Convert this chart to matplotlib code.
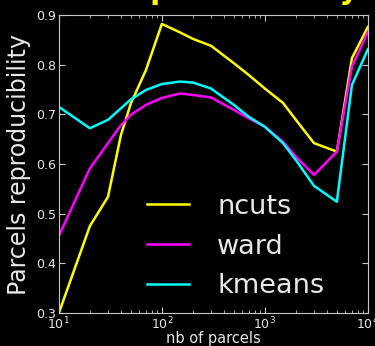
import numpy as np
import matplotlib
matplotlib.use("Agg")
import matplotlib.pyplot as plt

# number of parcels (log scale)
n_parcels = [10, 20, 30, 40, 50, 70, 100, 150, 200, 300, 500, 700,
             1000, 1500, 2000, 3000, 5000, 7000, 10000]

# reproducibility per method
ncuts = [0.300, 0.475, 0.534, 0.658, 0.722, 0.789, 0.882, 0.865, 0.852, 0.838,
         0.803, 0.779, 0.752, 0.723, 0.689, 0.642, 0.625, 0.813, 0.876]
ward = [0.455, 0.591, 0.642, 0.678, 0.699, 0.719, 0.733, 0.742, 0.739, 0.734,
        0.709, 0.692, 0.675, 0.645, 0.615, 0.578, 0.625, 0.796, 0.866]
kmeans = [0.715, 0.672, 0.689, 0.712, 0.730, 0.749, 0.761, 0.766, 0.764, 0.752,
          0.719, 0.695, 0.675, 0.642, 0.608, 0.556, 0.524, 0.759, 0.831]

fg = "#e8e8e8"
fig = plt.figure(figsize=(3.75, 3.46), dpi=100, facecolor="black")
ax = fig.add_axes([0.157, 0.0954, 0.824, 0.8612], facecolor="black")

ax.plot(n_parcels, ncuts, color="yellow", lw=1.8, label="ncuts")
ax.plot(n_parcels, ward, color="magenta", lw=1.8, label="ward")
ax.plot(n_parcels, kmeans, color="cyan", lw=1.8, label="kmeans")

ax.set_xscale("log")
ax.set_xlim(10, 10000)
ax.set_ylim(0.3, 0.9)
ax.set_yticks(np.arange(0.3, 0.91, 0.1))
ax.set_yticklabels(["0.3", "0.4", "0.5", "0.6", "0.7", "0.8", "0.9"])

for s in ax.spines.values():
    s.set_color("#c8c8c8")
ax.tick_params(which="both", direction="in", top=True, right=True,
               colors="#c8c8c8", labelcolor=fg, labelsize=9, pad=2)
ax.tick_params(which="major", length=4)
ax.tick_params(which="minor", length=2)

ax.set_xlabel("nb of parcels", color=fg, fontsize=10.5, labelpad=-1)
ax.set_ylabel("Parcels reproducibility", color=fg, fontsize=17, labelpad=4)

leg = ax.legend(loc="lower right", frameon=False, fontsize=19.5,
                bbox_to_anchor=(0.938, -0.035), labelspacing=0.5,
                handlelength=1.55, handletextpad=1.05)
for t in leg.get_texts():
    t.set_color(fg)

# title sits above the canvas, only its descenders show
fig.text(0.29, 1.004, "Reproducibility", color="yellow", fontsize=21,
         fontweight="bold", ha="left", va="baseline")

fig.savefig("out.png", dpi=100, facecolor="black")
